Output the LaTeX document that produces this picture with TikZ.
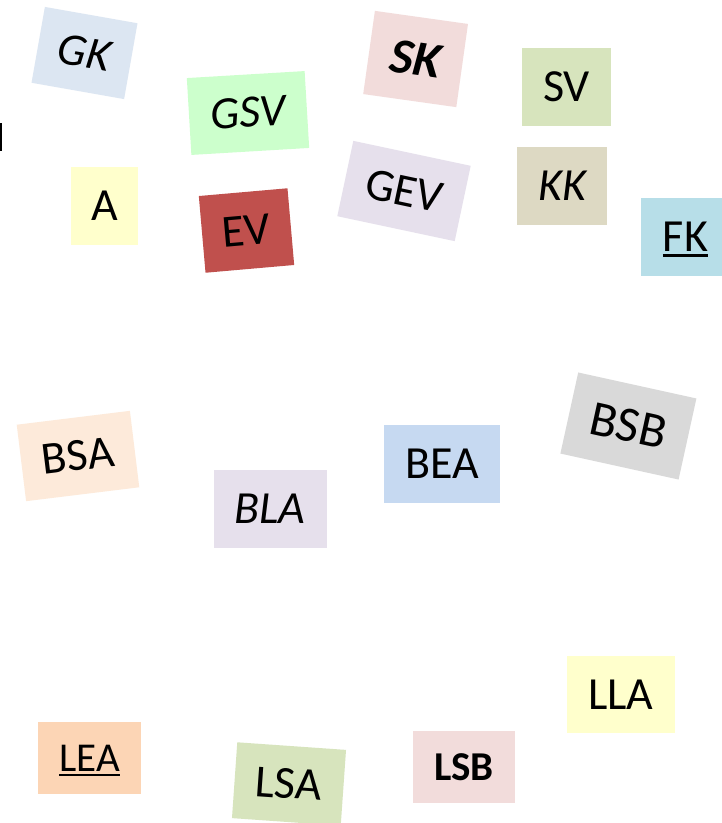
\documentclass[tikz,border=0pt]{standalone}
\usepackage{fontspec}
\setmainfont{Carlito}
\newcommand\myul[1]{\setbox0\hbox{#1}\rlap{\rule[-5pt]{\wd0}{2.2pt}}\box0}
\definecolor{cGK}{HTML}{DCE6F2}
\definecolor{cGSV}{HTML}{CCFFCC}
\definecolor{cA}{HTML}{FFFFCC}
\definecolor{cEV}{HTML}{C0504D}
\definecolor{cSK}{HTML}{F2DCDB}
\definecolor{cSV}{HTML}{D7E4BD}
\definecolor{cGEV}{HTML}{E6E0EC}
\definecolor{cKK}{HTML}{DDD9C3}
\definecolor{cFK}{HTML}{B7DEE8}
\definecolor{cBSA}{HTML}{FDEADA}
\definecolor{cBLA}{HTML}{E6E0EC}
\definecolor{cBEA}{HTML}{C6D9F1}
\definecolor{cBSB}{HTML}{D9D9D9}
\definecolor{cLEA}{HTML}{FCD5B5}
\definecolor{cLSA}{HTML}{D7E4BD}
\definecolor{cLSB}{HTML}{F2DCDB}
\definecolor{cLLA}{HTML}{FFFFCC}
\tikzset{
  card/.style={rectangle, inner sep=0pt, anchor=center, text depth=0pt, text=black},
  fnorm/.style={font=\fontsize{46}{50}\selectfont, text height=29pt},
  fsmall/.style={font=\fontsize{41}{45}\selectfont, text height=26pt},
  flarge/.style={font=\fontsize{50}{54}\selectfont, text height=31.5pt}
}
\begin{document}
\begin{tikzpicture}[x=1pt,y=-1pt]
\fill[white] (0,0) rectangle (722,823);
\useasboundingbox (0,0) rectangle (722,823);
% cut-off fragment at left edge
\fill[black] (0,123) rectangle (2,151);
\node[card, fnorm, fill=cGK, minimum width=94pt, minimum height=77pt, rotate=-10] (gk) at (84.5,53) {\itshape GK};
\node[card, fnorm, fill=cGSV, minimum width=118pt, minimum height=77pt, rotate=3.4] (gsv) at (248,113) {\itshape GSV};
\node[card, fnorm, fill=cA, minimum width=67pt, minimum height=78pt] (a) at (104.5,206) {A};
\node[card, fnorm, fill=cEV, minimum width=89pt, minimum height=77pt, rotate=5] (ev) at (246.5,230.5) {EV};
\node[card, flarge, fill=cSK, minimum width=94pt, minimum height=84pt, rotate=-8] (sk) at (415.6,59) {\bfseries\itshape SK};
\node[card, fnorm, fill=cSV, minimum width=89pt, minimum height=78pt] (sv) at (566.5,87) {SV};
\node[card, fnorm, fill=cGEV, minimum width=120pt, minimum height=77pt, rotate=-12] (gev) at (404,191) {GEV};
\node[card, fnorm, fill=cKK, minimum width=90pt, minimum height=78pt] (kk) at (562,186) {\itshape KK};
\node[card, fnorm, fill=cFK, minimum width=89pt, minimum height=78pt] (fk) at (685.5,237) {\myul{FK}};
\node[card, fnorm, fill=cBSA, minimum width=114pt, minimum height=77pt, rotate=7] (bsa) at (78,456) {BSA};
\node[card, fnorm, fill=cBLA, minimum width=113pt, minimum height=78pt] (bla) at (270,509) {\itshape BLA};
\node[card, fnorm, fill=cBEA, minimum width=116pt, minimum height=78pt] (bea) at (442,464) {BEA};
\node[card, flarge, fill=cBSB, minimum width=121pt, minimum height=83pt, rotate=-12.4] (bsb) at (628.4,426) {BSB};
\node[card, fsmall, fill=cLEA, minimum width=103pt, minimum height=72pt] (lea) at (89.5,758) {\myul{LEA}};
\node[card, fnorm, fill=cLSA, minimum width=109pt, minimum height=76pt, rotate=-4] (lsa) at (289,784) {LSA};
\node[card, fsmall, fill=cLSB, minimum width=102pt, minimum height=72pt] (lsb) at (464,767) {\bfseries LSB};
\node[card, fnorm, fill=cLLA, minimum width=108pt, minimum height=77pt] (lla) at (621,694.5) {LLA};
\end{tikzpicture}
\end{document}
